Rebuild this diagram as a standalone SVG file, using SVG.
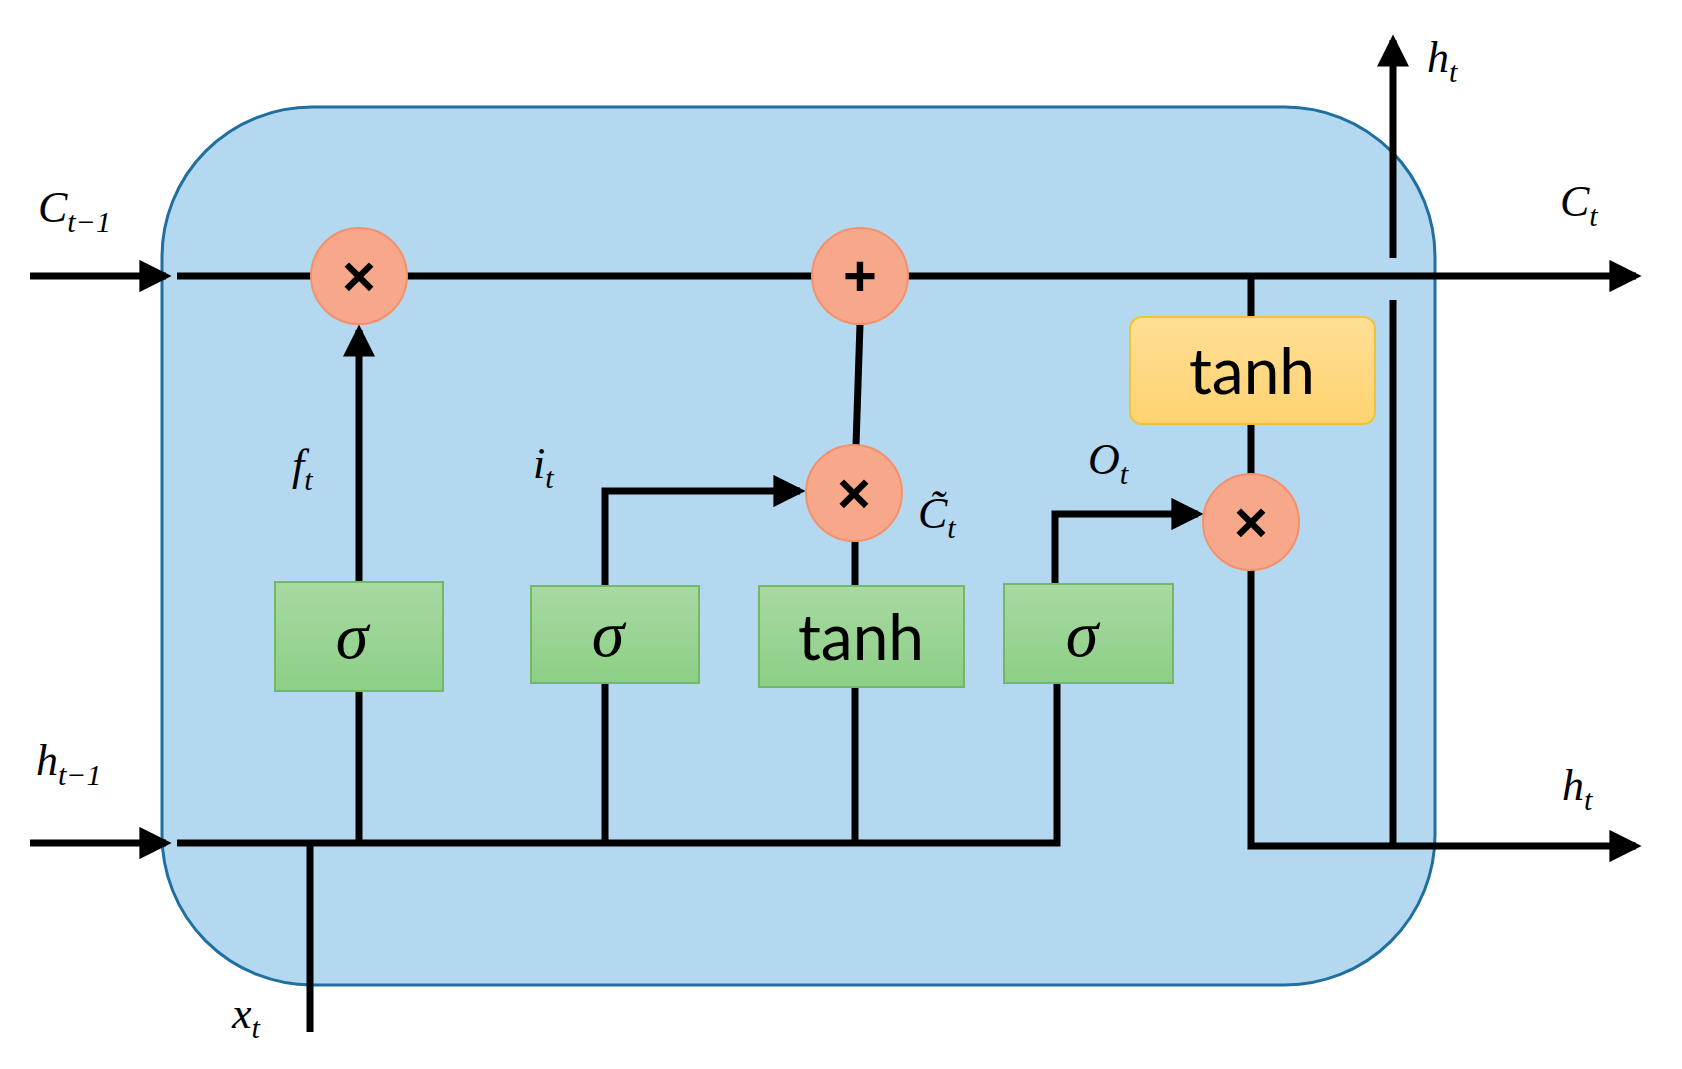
<svg xmlns="http://www.w3.org/2000/svg" width="1682" height="1069" viewBox="0 0 1682 1069">
<style>
.w{stroke:#000;stroke-width:7;fill:none}
.op{fill:#f7a88a;stroke:#f4916c;stroke-width:2}
.g{fill:url(#gg);stroke:#72b865;stroke-width:2}
.lb{font-family:"Liberation Serif",serif;font-style:italic;font-size:44px;fill:#000}
.sb{font-size:30px}
.sym{font-family:"Liberation Sans",sans-serif;font-weight:bold;font-size:58px;text-anchor:middle}
.tn{font-family:"Lato","Open Sans",sans-serif;font-size:64px;text-anchor:middle}
.sg{font-family:"Liberation Serif",serif;font-style:italic;font-size:66px;text-anchor:middle}
</style>
<defs>
<linearGradient id="gg" x1="0" y1="0" x2="0" y2="1"><stop offset="0" stop-color="#a8d9a2"/><stop offset="1" stop-color="#8ccf86"/></linearGradient>
<linearGradient id="yg" x1="0" y1="0" x2="0" y2="1"><stop offset="0" stop-color="#ffdf95"/><stop offset="1" stop-color="#ffd270"/></linearGradient>
<marker id="a" markerWidth="4.6" markerHeight="4.6" refX="3.8" refY="2.3" orient="auto" markerUnits="strokeWidth"><path d="M0,0L4.6,2.3L0,4.6z"/></marker>
</defs>
<g id="cell"><rect x="162" y="107" width="1273" height="878" rx="150" fill="#b4d8f0" stroke="#1f6fa0" stroke-width="3"/></g>
<g id="connectors">
<line class="w" x1="30" y1="276" x2="166" y2="276" marker-end="url(#a)"/>
<line class="w" x1="30" y1="843" x2="166" y2="843" marker-end="url(#a)"/>
<line class="w" x1="177" y1="276" x2="1636" y2="276" marker-end="url(#a)"/>
<polyline class="w" points="177,843 1057,843 1057,683"/>
<line class="w" x1="310" y1="843" x2="310" y2="1032"/>
<line class="w" x1="359" y1="843" x2="359" y2="691"/>
<line class="w" x1="359" y1="582" x2="359" y2="330" marker-end="url(#a)"/>
<line class="w" x1="605" y1="843" x2="605" y2="683"/>
<polyline class="w" points="605,586 605,491 800,491" marker-end="url(#a)"/>
<line class="w" x1="855" y1="843" x2="855" y2="687"/>
<line class="w" x1="855" y1="586" x2="855" y2="541"/>
<line class="w" x1="856" y1="445" x2="860" y2="324"/>
<polyline class="w" points="1055,584 1055,514 1198,514" marker-end="url(#a)"/>
<polyline class="w" points="1251,276 1251,846 1636,846" marker-end="url(#a)"/>
<line class="w" x1="1393" y1="846" x2="1393" y2="300"/>
<line class="w" x1="1393" y1="258" x2="1393" y2="40" marker-end="url(#a)"/>
</g>
<g id="forget_mul"><circle class="op" cx="359" cy="276" r="48"/><text class="sym" x="359" y="296">×</text></g>
<g id="add"><circle class="op" cx="860" cy="276" r="48"/><text class="sym" x="860" y="296">+</text></g>
<g id="input_mul"><circle class="op" cx="854" cy="493" r="48"/><text class="sym" x="854" y="513">×</text></g>
<g id="output_mul"><circle class="op" cx="1251" cy="522" r="48"/><text class="sym" x="1251" y="542">×</text></g>
<g id="sigma_f"><rect class="g" x="275" y="582" width="168" height="109"/><text class="sg" x="352" y="658">σ</text></g>
<g id="sigma_i"><rect class="g" x="531" y="586" width="168" height="97"/><text class="sg" x="608" y="656">σ</text></g>
<g id="tanh_c"><rect class="g" x="759" y="586" width="205" height="101"/><text class="tn" x="861" y="660">tanh</text></g>
<g id="sigma_o"><rect class="g" x="1004" y="584" width="169" height="99"/><text class="sg" x="1082" y="656">σ</text></g>
<g id="tanh_out"><rect x="1130" y="317" width="245" height="107" rx="12" fill="url(#yg)" stroke="#f2c236" stroke-width="2"/><text class="tn" x="1252" y="394">tanh</text></g>
<g id="labels">
<text class="lb" x="38" y="222">C<tspan class="sb" dy="10">t−1</tspan></text>
<text class="lb" x="36" y="775">h<tspan class="sb" dy="10">t−1</tspan></text>
<text class="lb" x="1560" y="216">C<tspan class="sb" dy="10">t</tspan></text>
<text class="lb" x="1427" y="72">h<tspan class="sb" dy="10">t</tspan></text>
<text class="lb" x="1562" y="800">h<tspan class="sb" dy="10">t</tspan></text>
<text class="lb" x="292" y="480">f<tspan class="sb" dy="10">t</tspan></text>
<text class="lb" x="533" y="478">i<tspan class="sb" dy="10">t</tspan></text>
<text class="lb" x="918" y="528">C̃<tspan class="sb" dy="10">t</tspan></text>
<text class="lb" x="1088" y="474">O<tspan class="sb" dy="10">t</tspan></text>
<text class="lb" x="232" y="1028">x<tspan class="sb" dy="10">t</tspan></text>
</g>
</svg>
